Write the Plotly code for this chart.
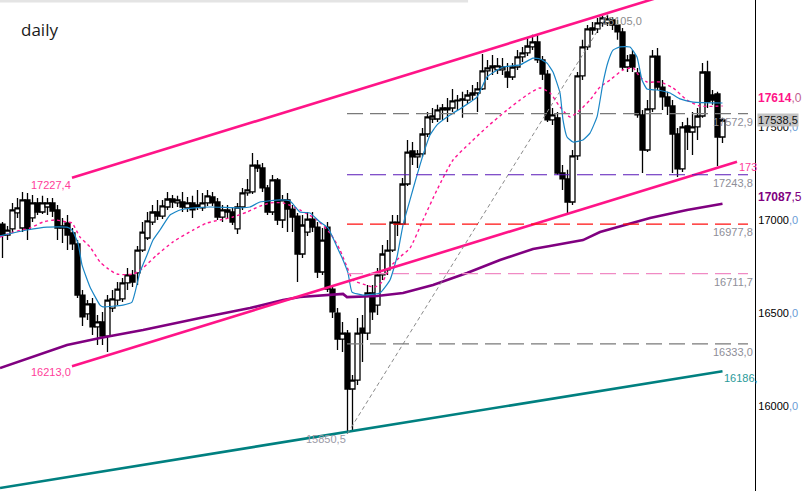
import plotly.graph_objects as go

# ---------------- candle data (daily) ----------------
bar_index = list(range(145))
open_px = [16978,16919,16952,17038,16957,17108,17011,17092,17043,17070,17092,17054,16957,16984,16930,16871,16596,16494,16548,16424,
           16451,16375,16526,16569,16575,16661,16704,16715,16838,16903,16989,17043,17021,17070,17113,17092,17097,17065,17092,17070,
           17065,17092,17124,17097,17016,17054,17043,16952,17070,17146,17151,17296,17280,17173,17043,17216,17000,17108,17059,17021,
           16817,16935,17005,16962,16720,16962,16628,16499,16359,16391,16090,16138,16418,16391,16607,16542,16704,16731,16838,16989,
           16978,17194,17372,17340,17356,17463,17544,17544,17603,17593,17603,17641,17646,17646,17673,17684,17706,17803,17819,17808,
           17808,17797,17770,17824,17878,17900,17932,17959,17862,17786,17539,17550,17253,17221,17097,17345,17776,17932,18023,18029,
           18061,18061,18077,18050,18013,17824,17889,17792,17566,17377,17598,17883,17716,17663,17614,17463,17275,17507,17474,17501,
           17560,17797,17673,17679,17447]
high_px = [16989,16968,17092,17119,17151,17146,17135,17119,17130,17119,17119,17081,17011,17027,16957,16892,16623,16569,16580,16488,
           16505,16596,16623,16666,16688,16741,16731,16860,16989,17043,17081,17108,17108,17151,17135,17130,17151,17124,17130,17162,
           17146,17162,17151,17119,17081,17081,17065,17092,17173,17221,17361,17323,17307,17189,17243,17226,17135,17146,17081,17038,
           17027,17043,17043,16989,16957,16989,16650,16526,16451,16408,16165,16472,16488,16650,16650,16741,16865,16892,17027,17027,
           17226,17431,17420,17377,17496,17582,17603,17620,17625,17657,17706,17673,17690,17700,17727,17743,17894,17862,17889,17873,
           17873,17846,17846,17916,17932,17980,17997,17997,17883,17808,17603,17582,17296,17270,17377,17797,17970,18050,18066,18088,
           18099,18105,18093,18077,18034,17889,17916,17819,17593,17646,17916,17926,17754,17690,17646,17496,17528,17550,17582,17603,
           17846,17857,17700,17690,17550]
low_px = [16795,16892,16930,17011,16935,16892,16989,17027,17032,17027,17016,16892,16876,16838,16838,16580,16429,16462,16381,16327,
          16327,16289,16505,16542,16558,16623,16639,16650,16828,16892,16973,17000,17005,17054,17065,17070,17043,17043,17011,17054,
          17048,17076,17076,17000,16989,17011,16973,16925,17054,17130,17140,17259,17151,17027,17027,16973,16957,16935,16935,16666,
          16795,16914,16935,16688,16704,16612,16472,16300,16289,15850.5,15864,16111,16235,16354,16462,16488,16677,16704,16828,16914,
          16973,17183,17296,17280,17340,17447,17523,17528,17539,17528,17582,17593,17550,17625,17646,17582,17700,17754,17781,17786,
          17781,17711,17754,17808,17851,17883,17916,17846,17754,17528,17512,17243,17162,17038,17081,17323,17754,17916,17997,18007,
          18040,18045,18023,17970,17808,17797,17797,17550,17253,17366,17582,17700,17593,17566,17253,17232,17259,17377,17350,17431,
          17550,17603,17620,17291,17415]
close_px = [16919,16946,17054,17065,17108,16952,17092,17043,17092,17092,17048,16957,16968,16919,16871,16596,16478,16548,16424,16451,
            16375,16569,16575,16628,16661,16704,16666,16838,16935,16995,17043,17021,17076,17113,17097,17108,17070,17092,17054,17081,
            17092,17130,17092,17016,17054,17043,16989,17070,17146,17162,17296,17280,17173,17043,17216,17000,17108,17059,17016,16817,
            16973,17005,16962,16720,16892,16628,16505,16359,16391,16090,16138,16391,16391,16607,16505,16704,16817,16838,16989,16978,
            17194,17366,17340,17356,17463,17555,17560,17593,17593,17603,17641,17646,17652,17673,17684,17706,17803,17819,17830,17830,
            17824,17770,17824,17878,17900,17937,17959,17862,17786,17539,17566,17253,17221,17097,17345,17776,17932,18029,18034,18061,
            18088,18083,18050,18013,17824,17862,17824,17566,17377,17598,17883,17716,17663,17614,17463,17275,17501,17474,17501,17560,
            17797,17636,17646,17447,17538.5]

# ---------------- indicator lines ----------------
fast_ma_x = [-0.5,2.1,4.9,8.9,12.9,13.9,15.1,15.9,17.5,19.5,20.1,24.1,25.9,27.5,28.9,30.1,31.5,33.5,35.5,38.5,41.5,47.5,49.5,51.5,
             55.5,57.5,59.5,61.5,63.5,65.1,66.9,68.1,69.1,69.9,72.1,75.5,77.5,78.9,80.1,81.5,82.9,84.1,85.5,86.9,89.5,92.1,94.9,96.9,
             100.1,103.5,106.1,107.5,108.9,110.1,111.5,112.1,112.9,114.1,116.1,117.5,118.9,120.1,121.1,122.1,123.5,125.5,126.9,127.9,
             128.9,130.9,133.5,135.5,138.1,144]
fast_ma_y = [16914,16930,16946,16962,16962,16946,16876,16758,16639,16542,16532,16542,16558,16720,16812,16892,16946,17027,17054,17065,
             17070,17065,17070,17097,17108,17102,17043,17038,16989,16957,16855,16785,16715,16612,16596,16607,16677,16801,16973,17108,
             17242,17350,17458,17512,17565,17609,17662,17770,17824,17835,17872,17867,17845,17797,17684,17539,17447,17420,17431,17468,
             17555,17738,17851,17915,17932,17932,17878,17754,17705,17700,17684,17652,17635,17630]

mid_ma_x = [-0.5,2.1,5.5,8.1,10.5,12.9,13.9,15.5,17.5,19.5,20.9,22.9,26.1,28.1,30.9,34.1,38.1,40.9,43.5,46.1,48.9,51.5,53.5,56.1,
            59.5,62.9,65.5,67.5,68.9,70.1,72.1,74.5,76.1,77.5,79.5,81.5,84.1,86.9,90.1,93.5,96.9,100.9,103.5,105.5,107.5,109.5,111.5,
            113.5,115.5,117.5,119.5,121.5,124.1,126.1,127.5,128.9,131.5,134.1,136.9,139.5,144]
mid_ma_y = [16908,16935,16957,16989,17000,16989,16984,16908,16855,16774,16742,16709,16709,16742,16812,16882,16946,16984,17000,17016,
            17043,17075,17092,17092,17054,17000,16930,16838,16747,16677,16655,16639,16672,16747,16801,16849,17000,17162,17323,17415,
            17501,17592,17646,17684,17711,17684,17609,17555,17592,17646,17716,17754,17808,17819,17770,17743,17743,17711,17646,17614,17614]

slow_ma_x = [-0.5,6.1,12.9,19.5,28.1,39.5,49.5,56.1,59.5,68.1,68.9,74.9,80.1,86.1,92.9,99.5,106.1,109.5,116.1,119.5,129.5,136.9,144]
slow_ma_y = [16203,16262,16327,16365,16408,16472,16526,16569,16585,16602,16585,16591,16607,16650,16715,16785,16844,16860,16892,16935,
             17011,17054,17087.5]

# trendlines (anchor bar index, price)
upper_channel_x = [13.9, 131.0]
upper_channel_y = [17227.4, 18197.0]
lower_channel_x = [13.9, 146.9]
lower_channel_y = [16213.0, 17314.0]
support_x = [-0.5, 144.0]
support_y = [15557.0, 16186.0]
swing_x = [69, 121]
swing_y = [15850.5, 18105.0]

# horizontal levels
level_values = [17572.9, 17243.8, 16977.8, 16711.7, 16333.0]
level_labels = ["17572,9", "17243,8", "16977,8", "16711,7", "16333,0"]
level_colors = ["#7a7a7a", "#5a18b8", "#ff1010", "#f08ac4", "#7a7a7a"]
level_start = 68.9
level_end = 149.1

tick_values = [16000, 16500, 17000, 17500]
tick_labels = ["16000", "16500", "17000", "17500"]

# ---------------- figure ----------------
fig = go.Figure()

fig.add_trace(go.Candlestick(
    x=bar_index, open=open_px, high=high_px, low=low_px, close=close_px,
    increasing=dict(line=dict(color="black", width=1.3), fillcolor="white"),
    decreasing=dict(line=dict(color="black", width=1.3), fillcolor="black"),
    whiskerwidth=0, hoverinfo="skip", showlegend=False))

fig.add_trace(go.Scatter(x=slow_ma_x, y=slow_ma_y, mode="lines",
                         line=dict(color="#800080", width=2.6), hoverinfo="skip"))
fig.add_trace(go.Scatter(x=mid_ma_x, y=mid_ma_y, mode="lines",
                         line=dict(color="#ff1493", width=1.4, dash="dot", shape="spline", smoothing=0.6),
                         hoverinfo="skip"))
fig.add_trace(go.Scatter(x=fast_ma_x, y=fast_ma_y, mode="lines",
                         line=dict(color="#1a86c6", width=1.2, shape="spline", smoothing=0.4), hoverinfo="skip"))

fig.add_trace(go.Scatter(x=upper_channel_x, y=upper_channel_y, mode="lines",
                         line=dict(color="#ff1488", width=2.6), hoverinfo="skip"))
fig.add_trace(go.Scatter(x=lower_channel_x, y=lower_channel_y, mode="lines",
                         line=dict(color="#ff1488", width=2.6), hoverinfo="skip"))
fig.add_trace(go.Scatter(x=support_x, y=support_y, mode="lines",
                         line=dict(color="#008080", width=2.6), hoverinfo="skip"))
fig.add_trace(go.Scatter(x=swing_x, y=swing_y, mode="lines",
                         line=dict(color="#8a8a8a", width=1, dash="4px,3px"), hoverinfo="skip"))

shapes = []
for v, c in zip(level_values, level_colors):
    shapes.append(dict(type="line", xref="x", yref="y", x0=level_start, x1=level_end, y0=v, y1=v,
                       line=dict(color=c, width=1.2, dash="16px,7px")))
# faint top shadow of the screenshot
shapes.append(dict(type="rect", xref="paper", yref="paper", x0=0, x1=0.62, y0=0.995, y1=1,
                   fillcolor="#e4e4e4", line=dict(width=0)))

FONT = "Liberation Sans, Arial, sans-serif"
anns = []

def add_ann(x, y, text, color, xanchor="left", size=11, xref="x", yref="y", yshift=0, xshift=0,
            bgcolor=None, family=FONT):
    d = dict(x=x, y=y, xref=xref, yref=yref, text=text, showarrow=False, xanchor=xanchor,
             yanchor="middle", yshift=yshift, xshift=xshift,
             font=dict(family=family, size=size, color=color), borderpad=0)
    if bgcolor:
        d["bgcolor"] = bgcolor
    anns.append(d)

add_ann(20 / 755, 1 - 29.5 / 491, "daily", "#1a1a1a", xref="paper", yref="paper", size=17,
        family="Open Sans, Noto Sans, sans-serif")

for v, lab in zip(level_values, level_labels):
    add_ann(150.2, v, lab, "#8e8e98", xanchor="right", yshift=-8)

add_ann(13.9, 17227.4, "17227,4", "#ff3d9a", xanchor="right", yshift=-7)
add_ann(13.9, 16213.0, "16213,0", "#ff3d9a", xanchor="right", yshift=-6)
add_ann(119.7, 18105.0, "18105,0", "#8c8c8c", xanchor="left", yshift=-6)
add_ann(68.9, 15850.5, "15850,5", "#9a9aa6", xanchor="right", yshift=-6)
add_ann(147.1, 17314.0, "173", "#ff3d9a", xanchor="left", yshift=-5)
add_ann(144.1, 16186.0, "16186,", "#2a9a9a", xanchor="left", yshift=-7)

# right-side value labels
add_ann(1, 17614.0, "<b>17614</b><span style='color:#c06090'>,0</span>", "#ff1488",
        xref="paper", xshift=2, yshift=8, size=12)
add_ann(1, 17538.5, "17538,5", "#111111", xref="paper", xshift=2, bgcolor="#c4c4c4")
add_ann(1, 17087.5, "<b>17087</b>,5", "#800080", xref="paper", xshift=2, yshift=7, size=12)

tick_text = [f"{t}<span style='color:#6a9bd6'>,0</span>" for t in tick_labels]

fig.update_layout(
    width=804, height=491,
    margin=dict(l=0, r=49, t=0, b=0),
    paper_bgcolor="white", plot_bgcolor="white",
    showlegend=False, boxgap=0, boxgroupgap=0,
    shapes=shapes, annotations=anns,
    xaxis=dict(range=[-0.5, 150.5], visible=False, rangeslider=dict(visible=False), fixedrange=True),
    yaxis=dict(range=[15540.7, 18184.7], side="right", showgrid=False, zeroline=False,
               showline=True, linecolor="black", linewidth=1.2, ticks="",
               tickvals=tick_values, ticktext=tick_text, automargin=False,
               tickfont=dict(family=FONT, size=11, color="black")),
)

fig.write_html("out.html", config={"displayModeBar": False},
               post_script="document.body.style.margin='0';document.body.style.padding='0';"
                           "document.body.style.overflow='hidden';")
